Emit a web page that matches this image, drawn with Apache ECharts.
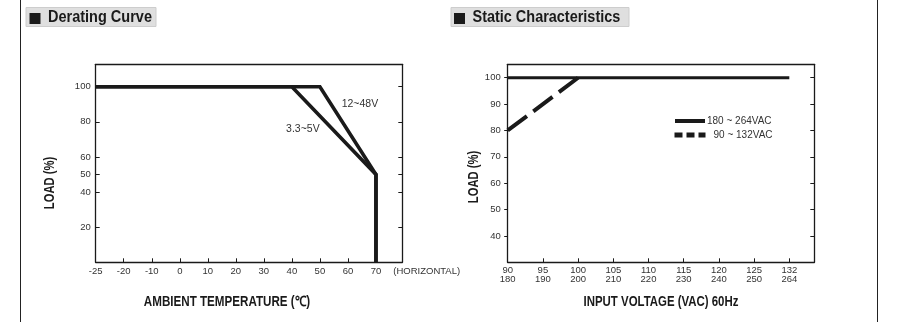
<!DOCTYPE html>
<html>
<head>
<meta charset="utf-8">
<script src="https://cdn.jsdelivr.net/npm/echarts@6/dist/echarts.min.js"></script>
<style>
html,body{margin:0;padding:0;background:#fff;}
#chart{width:897px;height:322px;}
</style>
</head>
<body>
<div id="chart"></div>
<script>
// ---- Data ----
const tempCategories = [-25, -20, -10, 0, 10, 20, 30, 40, 50, 60, 70];
const loadTicksLeft = [20, 40, 50, 60, 80, 100];
const derate33Temp = [-25, 40, 70, 70];
const derate33Load = [100, 100, 50, 0];
const derate12Temp = [-25, 50, 70, 70];
const derate12Load = [100, 100, 50, 0];

const voltCatsLow = [90, 95, 100, 105, 110, 115, 120, 125, 132];
const voltCatsHigh = [180, 190, 200, 210, 220, 230, 240, 250, 264];
const loadTicksRight = [40, 50, 60, 70, 80, 90, 100];
const highRangeVolt = [180, 264];
const highRangeLoad = [100, 100];
const lowRangeVolt = [90, 100];
const lowRangeLoad = [80, 100];

// ---- helpers ----
const FONT = "'Liberation Sans',Arial,sans-serif";
const INK = '#1a1a1a';
const TXT = '#333';
const idxT = t => tempCategories.indexOf(t);
const pairs = (xs, ys, f) => xs.map((x, i) => [f(x), ys[i]]);
const tempIdx = tempCategories.map((_, i) => i);
const voltIdx = voltCatsLow.map((_, i) => i);

const chart = echarts.init(document.getElementById('chart'), null, {renderer: 'canvas'});

const axisLine = {show: true, onZero: false, lineStyle: {color: INK, width: 1.3}};
const labelStyle = {color: TXT, fontFamily: FONT, fontSize: 9.5};

const option = {
  animation: false,
  backgroundColor: '#fff',
  grid: [
    {left: 95.7, top: 64.3, right: 897 - 402.3, bottom: 322 - 262.3},
    {left: 507.7, top: 64.3, right: 897 - 814.3, bottom: 322 - 262.3}
  ],
  xAxis: [
    {
      gridIndex: 0, type: 'value', position: 'bottom', min: 0, max: 10.94,
      axisLine: axisLine,
      axisTick: {show: true, inside: true, length: 4, lineStyle: {color: INK}, customValues: tempIdx.slice(1)},
      axisLabel: Object.assign({customValues: tempIdx, margin: 4, formatter: v => String(tempCategories[v])}, labelStyle),
      splitLine: {show: false},
      name: '(HORIZONTAL)', nameLocation: 'end', nameGap: -9,
      nameTextStyle: {color: TXT, fontFamily: FONT, fontSize: 9.5, verticalAlign: 'top', padding: [4, 0, 0, 0]}
    },
    {
      gridIndex: 0, type: 'value', position: 'top', min: 0, max: 10.94,
      axisLine: axisLine, axisTick: {show: false}, axisLabel: {show: false}, splitLine: {show: false}
    },
    {
      gridIndex: 1, type: 'value', position: 'bottom', min: 0, max: 8.71,
      axisLine: axisLine,
      axisTick: {show: true, inside: true, length: 4, lineStyle: {color: INK}, customValues: voltIdx.slice(1)},
      axisLabel: Object.assign({customValues: voltIdx, margin: 4, lineHeight: 8.5,
        formatter: v => voltCatsLow[v] + '\n' + voltCatsHigh[v]}, labelStyle),
      splitLine: {show: false}
    },
    {
      gridIndex: 1, type: 'value', position: 'top', min: 0, max: 8.71,
      axisLine: axisLine, axisTick: {show: false}, axisLabel: {show: false}, splitLine: {show: false}
    }
  ],
  yAxis: [
    {
      gridIndex: 0, type: 'value', position: 'left', min: 0, max: 112.75,
      axisLine: axisLine,
      axisTick: {show: true, inside: true, length: 4, lineStyle: {color: INK}, customValues: loadTicksLeft},
      axisLabel: Object.assign({customValues: loadTicksLeft, margin: 5}, labelStyle),
      splitLine: {show: false}
    },
    {
      gridIndex: 0, type: 'value', position: 'right', min: 0, max: 112.75,
      axisLine: axisLine,
      axisTick: {show: true, inside: true, length: 4, lineStyle: {color: INK}, customValues: loadTicksLeft},
      axisLabel: {show: false}, splitLine: {show: false}
    },
    {
      gridIndex: 1, type: 'value', position: 'left', min: 30, max: 105.1,
      axisLine: axisLine,
      axisTick: {show: true, inside: false, length: 3.5, lineStyle: {color: INK}, customValues: loadTicksRight},
      axisLabel: Object.assign({customValues: loadTicksRight, margin: 7}, labelStyle),
      splitLine: {show: false}
    },
    {
      gridIndex: 1, type: 'value', position: 'right', min: 30, max: 105.1,
      axisLine: axisLine,
      axisTick: {show: true, inside: true, length: 4, lineStyle: {color: INK}, customValues: loadTicksRight},
      axisLabel: {show: false}, splitLine: {show: false}
    }
  ],
  legend: [
    {
      data: [{name: '180 ~ 264VAC', lineStyle: {width: 4, type: 'solid', color: INK}}],
      left: 668, top: 111, itemWidth: 30, itemHeight: 12,
      itemStyle: {color: 'rgba(0,0,0,0)', borderWidth: 0, opacity: 0},
      textStyle: {color: TXT, fontFamily: FONT, fontSize: 10, padding: [0, 0, 0, -3]},
      selectedMode: false
    },
    {
      data: [{name: '90 ~ 132VAC', lineStyle: {width: 5, type: [8, 4], color: INK}}],
      left: 667, top: 125, itemWidth: 31, itemHeight: 12,
      itemStyle: {color: 'rgba(0,0,0,0)', borderWidth: 0, opacity: 0},
      textStyle: {color: TXT, fontFamily: FONT, fontSize: 10, padding: [0, 0, 0, 3]},
      selectedMode: false
    }
  ],
  series: [
    {
      name: '3.3~5V', type: 'line', xAxisIndex: 0, yAxisIndex: 0, symbol: 'none',
      data: pairs(derate33Temp, derate33Load, idxT),
      itemStyle: {color: INK},
      lineStyle: {color: INK, width: 3.6, join: 'miter'},
      markPoint: {
        symbol: 'circle', symbolSize: 0, silent: true,
        label: {show: true, position: 'inside', formatter: '3.3~5V', offset: [11, 42], color: TXT, fontFamily: FONT, fontSize: 10.5},
        data: [{coord: [idxT(40), 100]}]
      }
    },
    {
      name: '12~48V', type: 'line', xAxisIndex: 0, yAxisIndex: 0, symbol: 'none',
      data: pairs(derate12Temp, derate12Load, idxT),
      itemStyle: {color: INK},
      lineStyle: {color: INK, width: 3.6, join: 'miter'},
      markPoint: {
        symbol: 'circle', symbolSize: 0, silent: true,
        label: {show: true, position: 'inside', formatter: '12~48V', offset: [40, 17], color: TXT, fontFamily: FONT, fontSize: 10.5},
        data: [{coord: [idxT(50), 100]}]
      }
    },
    {
      name: '180 ~ 264VAC', type: 'line', xAxisIndex: 2, yAxisIndex: 2, symbol: 'none',
      data: pairs(highRangeVolt, highRangeLoad, v => voltCatsHigh.indexOf(v)),
      itemStyle: {color: INK},
      lineStyle: {color: INK, width: 3.2}
    },
    {
      name: '90 ~ 132VAC', type: 'line', xAxisIndex: 2, yAxisIndex: 2, symbol: 'none',
      data: pairs(lowRangeVolt, lowRangeLoad, v => voltCatsLow.indexOf(v)),
      itemStyle: {color: INK},
      lineStyle: {color: INK, width: 4, type: [24, 8]}
    }
  ],
  graphic: [
    {type: 'line', shape: {x1: 20.5, y1: 0, x2: 20.5, y2: 322}, style: {stroke: '#222', lineWidth: 1}},
    {type: 'line', shape: {x1: 877.5, y1: 0, x2: 877.5, y2: 322}, style: {stroke: '#222', lineWidth: 1}},
    {type: 'rect', shape: {x: 26, y: 7.5, width: 130, height: 19}, style: {fill: '#dfdfdf', stroke: '#cdcdcd', lineWidth: 1}},
    {type: 'rect', shape: {x: 29.5, y: 13, width: 11, height: 11}, style: {fill: INK}},
    {type: 'text', x: 48, y: 17.5, scaleX: 0.853, style: {text: 'Derating Curve', fill: INK, font: "bold 17px " + FONT, verticalAlign: 'middle', align: 'left'}},
    {type: 'rect', shape: {x: 451, y: 7.5, width: 178, height: 19}, style: {fill: '#dfdfdf', stroke: '#cdcdcd', lineWidth: 1}},
    {type: 'rect', shape: {x: 454, y: 13, width: 11, height: 11}, style: {fill: INK}},
    {type: 'text', x: 472.5, y: 17.5, scaleX: 0.85, style: {text: 'Static Characteristics', fill: INK, font: "bold 17px " + FONT, verticalAlign: 'middle', align: 'left'}},
    {type: 'text', x: 50, y: 183, rotation: Math.PI / 2, scaleX: 0.8, style: {text: 'LOAD (%)', fill: INK, font: "bold 14px " + FONT, verticalAlign: 'middle', align: 'center'}},
    {type: 'text', x: 474, y: 177, rotation: Math.PI / 2, scaleX: 0.8, style: {text: 'LOAD (%)', fill: INK, font: "bold 14px " + FONT, verticalAlign: 'middle', align: 'center'}},
    {type: 'text', x: 227, y: 302.5, scaleX: 0.83, style: {text: 'AMBIENT TEMPERATURE (℃)', fill: INK, font: "bold 14px " + FONT, verticalAlign: 'middle', align: 'center'}},
    {type: 'text', x: 661, y: 302.5, scaleX: 0.816, style: {text: 'INPUT VOLTAGE (VAC) 60Hz', fill: INK, font: "bold 14px " + FONT, verticalAlign: 'middle', align: 'center'}}
  ]
};
chart.setOption(option);
</script>
</body>
</html>
